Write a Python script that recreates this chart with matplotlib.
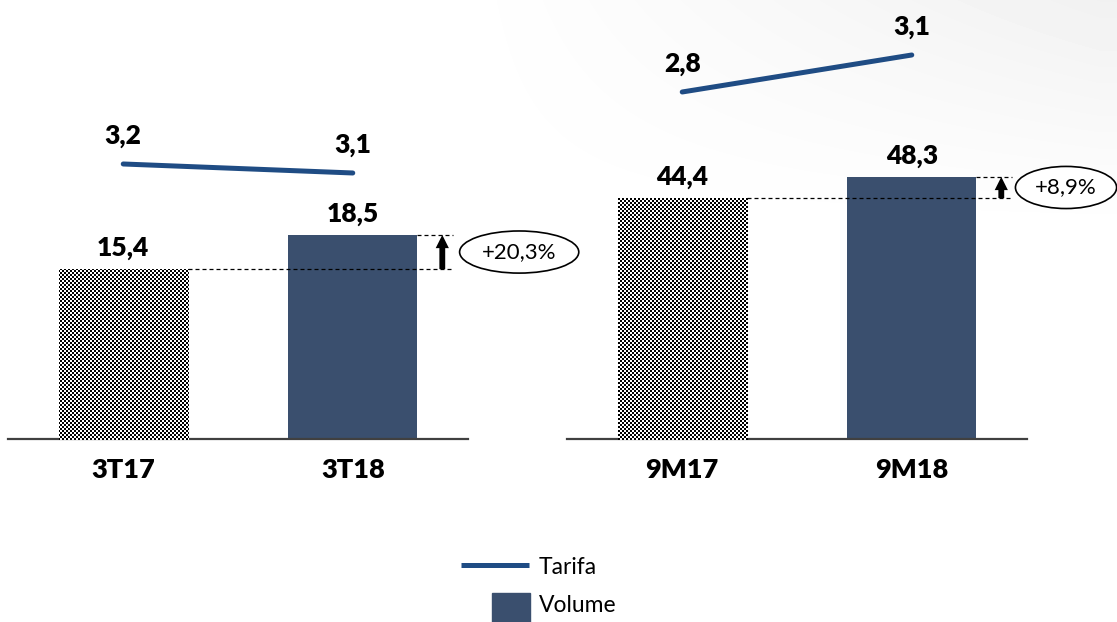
import numpy as np
import matplotlib
matplotlib.use('Agg')
import matplotlib.pyplot as plt
from matplotlib.patches import FancyArrowPatch, Rectangle
from matplotlib.lines import Line2D

plt.rcParams['font.family'] = ['Lato', 'DejaVu Sans']

# ---- data ----
categories_q = ['3T17', '3T18']
volume_q = [15.4, 18.5]
tarifa_q = [3.2, 3.1]
growth_q = '+20,3%'

categories_9m = ['9M17', '9M18']
volume_9m = [44.4, 48.3]
tarifa_9m = [2.8, 3.1]
growth_9m = '+8,9%'

legend_labels = ['Tarifa', 'Volume']

# ---- style ----
W, H = 1117, 622
BAR = '#3A4F6E'
LINE = '#1F4C84'
AXIS = '#404040'
WEIGHT = 'heavy'

fig = plt.figure(figsize=(W / 100, H / 100), dpi=100)

# faint background shading (top-right)
bg = fig.add_axes([0, 0, 1, 1], zorder=-10)
yy, xx = np.mgrid[0:H, 0:W]
shade = np.clip((xx - 450) / 650, 0, 1) * np.clip(1 - yy / 230, 0, 1) * 0.055
bg.imshow(1 - shade, cmap='gray', vmin=0, vmax=1, aspect='auto')
bg.axis('off')

checker = (((yy // 2) + (xx // 2)) % 2).astype(float)


def fmt(v):
    return f'{v:.1f}'.replace('.', ',')


def panel(x0, cats, vols, tars, growth, bar_top, tar_lim, text_x):
    ax = fig.add_axes([x0 / W, (H - 439) / H, 460 / W, 439 / H])
    ax.patch.set_visible(False)
    x = np.arange(len(cats))
    bars = ax.bar(x, vols, width=0.563, color=['white', BAR], linewidth=0, zorder=2)
    ax.set_xlim(-0.502, 1.502)
    ax.set_ylim(0, bar_top)
    ax.set_yticks([])
    ax.set_xticks(x, cats, fontsize=19.5, fontweight=WEIGHT)
    ax.tick_params(axis='x', length=0, pad=14)
    for s in ['top', 'left', 'right']:
        ax.spines[s].set_visible(False)
    ax.spines['bottom'].set_color(AXIS)
    ax.spines['bottom'].set_linewidth(1.6)

    # checkered texture for the first bar
    im = fig.figimage(checker, xo=0, yo=0, cmap='gray', vmin=0, vmax=1,
                      origin='upper', zorder=5)
    im.set_clip_path(bars[0])

    for xi, v in zip(x, vols):
        ax.annotate(fmt(v), (xi, v), xytext=(0, 9.5), textcoords='offset points',
                    ha='center', va='baseline', fontsize=19, fontweight=WEIGHT)

    half = 0.563 / 2
    dash = (0, (3.2, 2.4))
    ax.plot([x[0] + half, 1.435], [vols[0]] * 2, ls=dash, color='black', lw=0.9,
            clip_on=False, zorder=3)
    ax.plot([x[1] + half, 1.435], [vols[1]] * 2, ls=dash, color='black', lw=0.9,
            clip_on=False, zorder=3)
    arrow = FancyArrowPatch((1.39, vols[0]), (1.39, vols[1]),
                            arrowstyle='simple,head_length=0.95,head_width=0.95,tail_width=0.42',
                            mutation_scale=10, color='black', lw=0, clip_on=False,
                            shrinkA=0, shrinkB=0, zorder=4)
    ax.add_patch(arrow)
    ax.text(text_x, (vols[0] + vols[1]) / 2, growth, ha='center', va='center',
            fontsize=16, clip_on=False,
            bbox=dict(boxstyle='ellipse,pad=0.22', fc='white', ec='black', lw=1.2))

    ax2 = ax.twinx()
    ax2.plot(x, tars, color=LINE, lw=3.6, solid_capstyle='round')
    ax2.set_ylim(*tar_lim)
    ax2.axis('off')
    for xi, t in zip(x, tars):
        ax2.annotate(fmt(t), (xi, t), xytext=(0, 14.4), textcoords='offset points',
                     ha='center', va='baseline', fontsize=19, fontweight=WEIGHT)
    return ax


panel(8, categories_q, volume_q, tarifa_q, growth_q, 39.8, (0.1444, 5.022), 1.725)
panel(567, categories_9m, volume_9m, tarifa_9m, growth_9m, 80.9, (-0.0143, 3.546), 1.672)

# ---- legend ----
fig.add_artist(Line2D([461 / W, 529 / W], [1 - 565 / H] * 2, transform=fig.transFigure,
                      color=LINE, lw=3.6, solid_capstyle='butt'))
fig.add_artist(Rectangle((492 / W, 0), 38 / W, (622 - 593) / H,
                         transform=fig.transFigure, color=BAR))
fig.text(539 / W, 1 - 568 / H, legend_labels[0], va='center', ha='left', fontsize=16.5)
fig.text(539 / W, 1 - 606 / H, legend_labels[1], va='center', ha='left', fontsize=16.5)

fig.savefig('out.png', dpi=100)
